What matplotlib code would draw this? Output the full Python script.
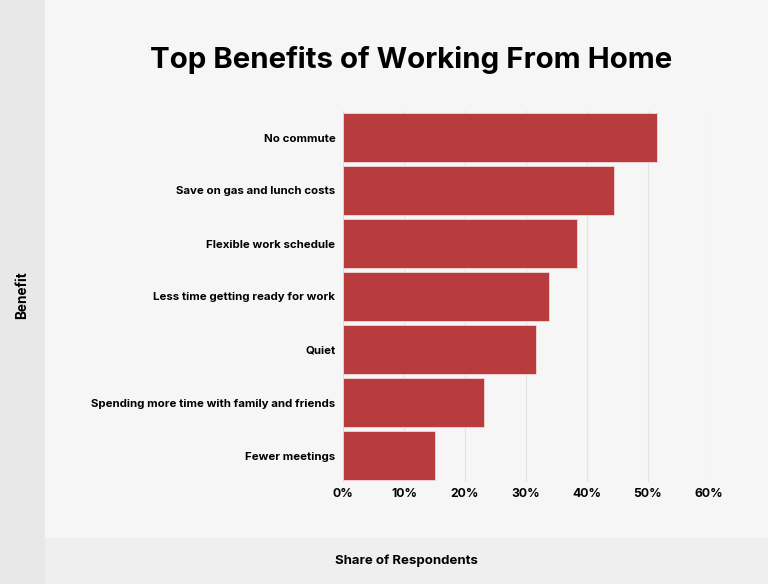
import matplotlib.pyplot as plt
from matplotlib.patches import Rectangle

# data
benefits = [
    "No commute",
    "Save on gas and lunch costs",
    "Flexible work schedule",
    "Less time getting ready for work",
    "Quiet",
    "Spending more time with family and friends",
    "Fewer meetings",
]
share = [51.4, 44.4, 38.4, 33.8, 31.6, 23.1, 15.1]
x_ticks = [0, 10, 20, 30, 40, 50, 60]

plt.rcParams['font.family'] = ['Inter', 'DejaVu Sans']

fig = plt.figure(figsize=(7.68, 5.84), dpi=100)
fig.patch.set_facecolor('#f6f6f6')

# grey strips for the axis titles
fig.add_artist(Rectangle((0, 0), 45 / 768, 1, transform=fig.transFigure,
                         facecolor='#e8e8e8', edgecolor='none', zorder=0))
fig.add_artist(Rectangle((45 / 768, 0), 1, 46 / 584, transform=fig.transFigure,
                         facecolor='#efefef', edgecolor='none', zorder=0))

ax = fig.add_axes([343 / 768, 1 - 482 / 584, 366 / 768, 371 / 584])
ax.set_facecolor('none')

y = range(len(benefits))
ax.barh(y, share, height=0.92, color='#b83c3e', edgecolor='#f2d8d8',
        linewidth=0.6, zorder=3)

ax.set_xlim(0, 60)
ax.set_ylim(len(benefits) - 0.5, -0.5)
ax.set_xticks(x_ticks)
ax.set_xticklabels([f"{t}%" for t in x_ticks], fontsize=8.8, fontweight='bold')
ax.set_yticks(list(y))
ax.set_yticklabels(benefits, fontsize=8.25, fontweight='bold')
ax.tick_params(length=0)
ax.tick_params(axis='x', pad=4)
ax.tick_params(axis='y', pad=5.5)

ax.grid(axis='x', color='#e2e2e2', linewidth=0.8, zorder=0)
for s in ax.spines.values():
    s.set_visible(False)

fig.text(411 / 768, 1 - 60 / 584, "Top Benefits of Working From Home",
         ha='center', va='center', fontsize=21.2, fontweight='bold')
fig.text(22 / 768, 1 - 295 / 584, "Benefit", rotation=90,
         ha='center', va='center', fontsize=9.8, fontweight='bold')
fig.text(406 / 768, 1 - 561 / 584, "Share of Respondents",
         ha='center', va='center', fontsize=9.5, fontweight='bold')

fig.savefig('out.png', dpi=100, facecolor=fig.get_facecolor())
